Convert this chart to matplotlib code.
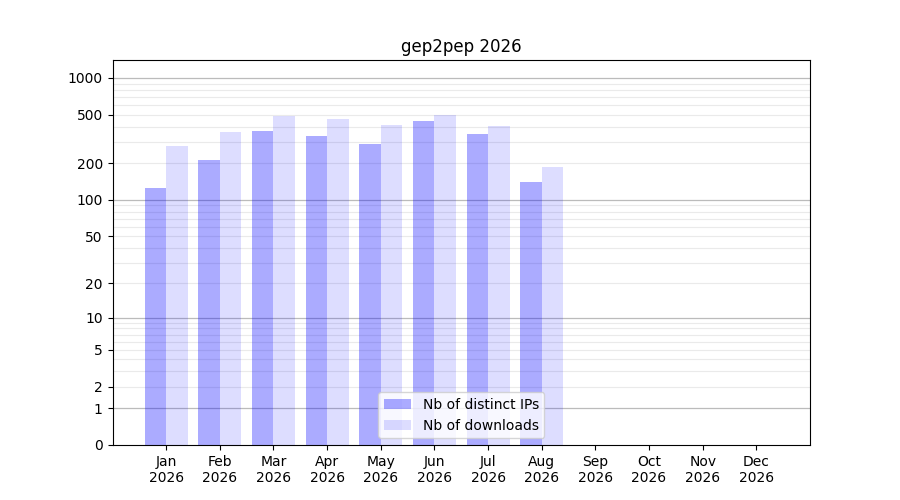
import numpy as np
import matplotlib
matplotlib.use("Agg")
import matplotlib.pyplot as plt

months = ["Jan", "Feb", "Mar", "Apr", "May", "Jun", "Jul", "Aug", "Sep", "Oct", "Nov", "Dec"]
year = "2026"
distinct_ips = [126, 213, 368, 335, 288, 445, 348, 140]
downloads = [278, 362, 489, 462, 413, 498, 405, 186]
ytick_values = [0, 1, 2, 5, 10, 20, 50, 100, 200, 500, 1000]

fig, ax = plt.subplots(figsize=(9, 5), dpi=100)
ax.set_yscale("function", functions=(lambda v: np.log10(1 + np.maximum(v, 0)),
                                      lambda v: 10 ** v - 1))

# grid lines
for p in range(0, 3):
    for m in range(2, 10):
        if p == 0 and m < 2:
            continue
        ax.axhline(m * 10 ** p, color="#dddddd", lw=0.8, alpha=0.6, zorder=0)
for v in [1, 10, 100, 1000]:
    ax.axhline(v, color="#bbbbbb", lw=0.9, zorder=0)

x = np.arange(len(distinct_ips))
w = 0.4
ax.bar(x, distinct_ips, width=-w, align="edge", color="blue", alpha=0.33,
       label="Nb of distinct IPs", zorder=2)
ax.bar(x, downloads, width=w, align="edge", color="blue", alpha=0.135,
       label="Nb of downloads", zorder=2)

ax.set_xlim(-1, len(months))
ax.set_xticks(np.arange(len(months)))
ax.set_xticklabels([f"{m}\n{year}" for m in months])
ax.set_ylim(0, 1403)
ax.set_yticks(ytick_values)
ax.set_yticklabels([str(v) for v in ytick_values])
ax.minorticks_off()
ax.set_title("gep2pep 2026")
ax.legend(loc="lower center")

fig.savefig("out.png", dpi=100)
